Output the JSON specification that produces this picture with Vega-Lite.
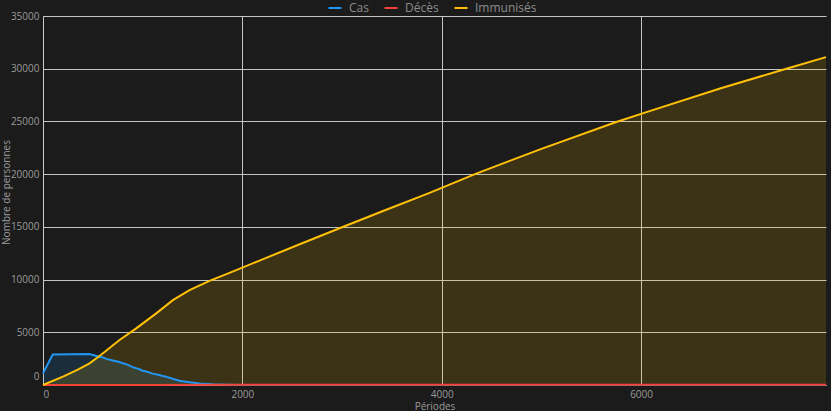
{
  "$schema": "https://vega.github.io/schema/vega-lite/v6.json",
  "width": 783,
  "height": 369,
  "autosize": {"type": "none"},
  "padding": {"left": 43, "top": 16, "right": 5, "bottom": 26},
  "background": "#1b1b1b",
  "config": {
    "view": {"stroke": null},
    "font": "Open Sans",
    "axis": {
      "labelColor": "#9a9a9a",
      "titleColor": "#9a9a9a",
      "labelFontSize": 10,
      "titleFontSize": 10,
      "titleFontWeight": "normal",
      "gridColor": "#c4c4c4",
      "gridWidth": 1,
      "domainColor": "#cccccc",
      "ticks": false,
      "format": "d"
    },
    "legend": {
      "labelColor": "#8c8c8c",
      "labelFontSize": 12
    }
  },
  "data": {
    "values": [
      {"t": 0, "serie": "Cas", "v": 1110},
      {"t": 98, "serie": "Cas", "v": 2890},
      {"t": 465, "serie": "Cas", "v": 2935},
      {"t": 566, "serie": "Cas", "v": 2680},
      {"t": 600, "serie": "Cas", "v": 2620},
      {"t": 635, "serie": "Cas", "v": 2480},
      {"t": 700, "serie": "Cas", "v": 2330},
      {"t": 766, "serie": "Cas", "v": 2180},
      {"t": 801, "serie": "Cas", "v": 2055},
      {"t": 835, "serie": "Cas", "v": 1980},
      {"t": 900, "serie": "Cas", "v": 1700},
      {"t": 967, "serie": "Cas", "v": 1490},
      {"t": 1001, "serie": "Cas", "v": 1355},
      {"t": 1036, "serie": "Cas", "v": 1280},
      {"t": 1100, "serie": "Cas", "v": 1080},
      {"t": 1168, "serie": "Cas", "v": 950},
      {"t": 1202, "serie": "Cas", "v": 850},
      {"t": 1237, "serie": "Cas", "v": 790},
      {"t": 1300, "serie": "Cas", "v": 600},
      {"t": 1369, "serie": "Cas", "v": 410},
      {"t": 1470, "serie": "Cas", "v": 270},
      {"t": 1570, "serie": "Cas", "v": 150},
      {"t": 1700, "serie": "Cas", "v": 70},
      {"t": 1850, "serie": "Cas", "v": 30},
      {"t": 2000, "serie": "Cas", "v": 10},
      {"t": 2500, "serie": "Cas", "v": 0},
      {"t": 7855, "serie": "Cas", "v": 0},
      {"t": 0, "serie": "Décès", "v": 0},
      {"t": 1000, "serie": "Décès", "v": 10},
      {"t": 2000, "serie": "Décès", "v": 18},
      {"t": 7855, "serie": "Décès", "v": 20},
      {"t": 0, "serie": "Immunisés", "v": 0},
      {"t": 200, "serie": "Immunisés", "v": 800},
      {"t": 350, "serie": "Immunisés", "v": 1450},
      {"t": 467, "serie": "Immunisés", "v": 2055},
      {"t": 567, "serie": "Immunisés", "v": 2747},
      {"t": 768, "serie": "Immunisés", "v": 4263},
      {"t": 935, "serie": "Immunisés", "v": 5371},
      {"t": 1136, "serie": "Immunisés", "v": 6792},
      {"t": 1303, "serie": "Immunisés", "v": 8052},
      {"t": 1470, "serie": "Immunisés", "v": 9000},
      {"t": 1670, "serie": "Immunisés", "v": 9880},
      {"t": 1871, "serie": "Immunisés", "v": 10640},
      {"t": 2172, "serie": "Immunisés", "v": 11800},
      {"t": 2600, "serie": "Immunisés", "v": 13450},
      {"t": 3025, "serie": "Immunisés", "v": 15060},
      {"t": 3450, "serie": "Immunisés", "v": 16650},
      {"t": 3878, "serie": "Immunisés", "v": 18220},
      {"t": 4346, "serie": "Immunisés", "v": 20050},
      {"t": 5000, "serie": "Immunisés", "v": 22400},
      {"t": 5751, "serie": "Immunisés", "v": 24940},
      {"t": 6085, "serie": "Immunisés", "v": 25980},
      {"t": 6800, "serie": "Immunisés", "v": 28150},
      {"t": 7457, "serie": "Immunisés", "v": 30000},
      {"t": 7855, "serie": "Immunisés", "v": 31100}
    ]
  },
  "encoding": {
    "x": {
      "field": "t",
      "type": "quantitative",
      "scale": {"domain": [0, 7855], "nice": false, "zero": true},
      "axis": {
        "title": "Périodes",
        "values": [0, 2000, 4000, 6000],
        "labelPadding": 4,
        "titleY": 21,
        "titleBaseline": "middle",
        "grid": true
      }
    },
    "y": {
      "field": "v",
      "type": "quantitative",
      "stack": null,
      "scale": {"domain": [0, 35000], "nice": false},
      "axis": {
        "title": "Nombre de personnes",
        "values": [0, 5000, 10000, 15000, 20000, 25000, 30000, 35000],
        "labelPadding": 4,
        "labelOffset": {"condition": {"test": "datum.value == 0", "value": -9}, "value": 0},
        "titleX": -37,
        "titleY": 176,
        "titleBaseline": "middle",
        "grid": true
      }
    },
    "color": {
      "field": "serie",
      "type": "nominal",
      "scale": {
        "domain": ["Cas", "Décès", "Immunisés"],
        "range": ["#2196f3", "#f44336", "#ffc107"]
      },
      "legend": {
        "title": null,
        "orient": "none",
        "direction": "horizontal",
        "legendX": 284,
        "legendY": -16,
        "symbolType": "stroke",
        "symbolSize": 170,
        "symbolStrokeWidth": 2,
        "labelOffset": 6,
        "columnPadding": 11,
        "padding": 0
      }
    }
  },
  "layer": [
    {"mark": {"type": "area", "fillOpacity": 0.15, "line": false}},
    {"mark": {"type": "line", "strokeWidth": 2}}
  ]
}
